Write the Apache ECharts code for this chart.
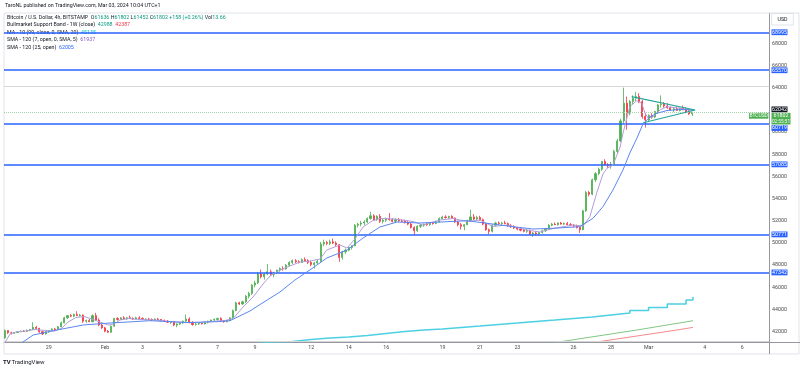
<!DOCTYPE html>
<html><head><meta charset="utf-8">
<script src="https://cdn.jsdelivr.net/npm/echarts@6/dist/echarts.min.js"></script>
<style>html,body{margin:0;padding:0;background:#fff}#c{width:800px;height:370px}</style>
</head><body><div id="c"></div>
<script>
// ---------- DATA ----------
// 4h candles, slot 0 = Feb 1 00:00, one slot = 4 hours
const candleStart = -32;
const ohlc = [ // [open, high, low, close]
[41450,42200,41350,42100],[42100,42150,41800,41900],[41900,42000,41750,41850],[41850,41950,41800,41920],
[41920,42050,41880,42000],[42000,42100,41950,42050],[42050,42150,41980,42020],[42020,42200,42000,42120],
[42120,42250,42050,42200],[42200,42850,42150,42400],[42400,42500,42250,42300],[42300,42350,41900,42000],
[42000,42100,41700,41800],[41800,42050,41750,42000],[42000,42150,41900,42100],[42100,42300,42050,42250],
[42250,42350,42100,42200],[42200,42500,42150,42450],[42450,42900,42400,42800],[42800,43350,42750,43250],
[43250,43500,43150,43450],[43450,43600,43300,43400],[43400,43650,43300,43550],[43550,43850,43400,43450],
[43450,43600,43350,43500],[43500,43550,42800,42950],[42950,43100,42800,43000],[43000,43150,42850,42900],
[42900,43550,42850,43450],[43450,43700,42950,43050],[43050,43200,42500,42600],[42600,42700,42250,42350],
[42350,42450,41950,42050],[42050,42150,41900,41950],[41950,42550,41900,42500],[42500,43250,42450,43200],
[43200,43300,43000,43100],[43100,43300,43050,43250],[43250,43400,43100,43150],[43150,43300,43050,43250],
[43250,43450,43150,43200],[43200,43300,43050,43150],[43150,43350,43100,43250],[43250,43400,43150,43200],
[43200,43300,43050,43100],[43100,43200,43000,43150],[43150,43250,43050,43100],[43100,43200,42950,43050],
[43050,43200,43000,43150],[43150,43250,43050,43100],[43100,43150,42950,43000],[43000,43100,42900,42950],
[42950,43050,42800,42850],[42850,42950,42700,42900],[42900,42950,42500,42600],[42600,42750,42400,42700],
[42700,42850,42600,42800],[42800,43000,42700,42950],[42950,43550,42900,43150],[43150,43300,42750,42850],
[42850,42950,42550,42650],[42650,42800,42550,42700],[42700,42800,42600,42750],[42750,42850,42650,42700],
[42700,42900,42650,42850],[42850,43000,42750,42950],[42950,43100,42850,43050],[43050,43200,42950,43100],
[43100,43250,43000,43200],[43200,43300,42900,42950],[42950,43050,42800,42900],[42900,43050,42850,43000],
[43000,43300,42950,43250],[43250,44000,43200,43900],[43900,44700,43850,44600],[44600,44700,44400,44500],
[44500,44800,44400,44700],[44700,45300,44600,45200],[45200,45600,45000,45450],[45450,46300,45300,46200],
[46200,46600,46000,46400],[46400,47400,46300,47200],[47200,47600,46800,46950],[46950,47300,46700,47200],
[47200,48100,47100,47400],[47400,47600,47000,47150],[47150,47400,46900,47350],[47350,47600,47200,47550],
[47550,47800,47400,47700],[47700,47900,47500,47650],[47650,48100,47600,48000],[48000,48350,47900,48250],
[48250,48500,48100,48400],[48400,48550,48200,48300],[48300,48450,48150,48250],[48250,48600,48200,48500],
[48500,48700,48350,48400],[48400,48550,48100,48250],[48250,48400,47900,48050],[48050,48300,47700,48200],
[48200,48500,48100,48350],[48350,50100,48300,49900],[49900,50300,49700,50050],[50050,50200,49800,49950],
[49950,50300,49800,50100],[50100,50400,49900,50000],[50000,50150,49700,49850],[49850,49900,48300,48700],
[48700,49300,48500,49200],[49200,49500,49000,49350],[49350,49700,49250,49600],[49600,49800,49400,49750],
[49750,51700,49700,51600],[51600,51800,51400,51700],[51700,52000,51500,51800],[51800,52050,51600,51900],
[51900,52300,51800,52200],[52200,52800,52100,52450],[52450,52600,52000,52100],[52100,52500,52000,52400],
[52400,52600,51800,51950],[51950,52200,51750,52050],[52050,52300,51900,52200],[52200,52700,52000,52100],
[52100,52250,51850,51950],[51950,52200,51800,52100],[52100,52250,51900,52000],[52000,52150,51850,51950],
[51950,52100,51750,51850],[51850,52000,51600,51700],[51700,51800,51300,51400],[51400,51500,50700,51100],
[51100,51600,51000,51500],[51500,51700,51350,51600],[51600,51750,51450,51700],[51700,51850,51550,51650],
[51650,51850,51550,51800],[51800,51900,51650,51750],[51750,52000,51700,51900],[51900,52300,51850,52200],
[52200,52450,52100,52350],[52350,52500,52200,52300],[52300,52450,52150,52400],[52400,52500,52200,52250],
[52250,52300,51800,51900],[51900,52000,51500,51650],[51650,51800,51200,51500],[51500,51700,51150,51650],
[51650,52100,51600,52000],[52000,53000,51950,52350],[52350,52600,52050,52150],[52150,52450,52050,52300],
[52300,52450,52000,52100],[52100,52200,51600,51700],[51700,51800,51100,51200],[51200,51300,50800,51050],
[51050,51700,50950,51600],[51600,51900,51500,51800],[51800,51950,51650,51750],[51750,51900,51600,51800],
[51800,52000,51700,51750],[51750,51850,51450,51550],[51550,51700,51350,51450],[51450,51600,51250,51350],
[51350,51450,51150,51250],[51250,51400,51050,51150],[51150,51300,50950,51050],[51050,51250,50900,51150],
[51150,51200,50700,50800],[50800,51000,50550,50900],[50900,51050,50650,50800],[50800,51000,50700,50950],
[50950,51200,50850,51100],[51100,51300,51000,51250],[51250,51700,51200,51600],[51600,51800,51500,51700],
[51700,51850,51600,51650],[51650,51850,51550,51800],[51800,51900,51650,51700],[51700,51850,51600,51750],
[51750,51900,51600,51650],[51650,51800,51500,51600],[51600,51700,51400,51550],[51550,51650,51300,51400],
[51400,51500,50900,51200],[51200,53000,51150,52900],[52900,54700,52800,54550],[54550,54700,54200,54400],
[54400,55800,54300,55700],[55700,56400,55500,56250],[56250,56800,56100,56650],[56650,57400,56500,57350],
[57350,57550,56950,57050],[57050,57200,56750,56950],[56950,57300,56700,57100],[57100,58400,57000,58250],
[58250,59400,58100,59200],[59200,61200,59100,61000],[61000,64000,60800,62600],[62600,63200,60200,61700],
[61700,62900,61500,62750],[62750,63300,62500,63050],[63050,63600,62800,63200],[63200,63500,62600,62750],
[62750,62900,61200,61400],[61400,61700,60400,61100],[61100,61600,60900,61500],[61500,61700,61200,61350],
[61350,61900,61250,61850],[61850,62500,61700,62450],[62450,63300,62200,62500],[62500,62700,62200,62350],
[62350,62600,62100,62200],[62200,62300,61900,62000],[62000,62200,61800,62100],[62100,62300,61900,61950],
[61950,62200,61850,62150],[62150,62400,61950,62050],[62050,62250,61700,61800],[61800,62000,61550,61636],
[61636,61802,61452,61802]
];
// SMA (7, open) – purple: [slot, price]
const smaFast = [[-32.3,40891],[-30.4,41793],[-28.5,41973],[-25.6,42063],[-22.4,42198],[-19.2,42108],[-16,42063],
[-13.8,42334],[-11.8,42874],[-9.3,43280],[-6.7,43370],[-4.2,43145],[-1.6,42874],[1,42604],[2.9,42694],[4.8,43055],
[7.4,43190],[11.2,43100],[16,43055],[20.8,42920],[25.6,42829],[30.4,42829],[33.6,42920],[38.4,43010],[41,43190],
[44.2,44227],[47.4,45128],[50.6,46300],[52.8,47021],[56,47562],[59.2,47923],[62.4,48283],[65.6,48374],[68.8,48554],
[71,49365],[75.2,49816],[77.5,49545],[80,50357],[82.6,51439],[85.5,51980],[88,52205],[92.8,52160],[98.6,51935],
[101.8,51619],[107.2,52070],[111.4,52205],[115.9,51935],[120,52070],[124.2,51484],[128.7,51619],[135.1,51168],
[139.2,50988],[143.4,51303],[149.8,51619],[153,51529],[155.2,52367],[157.5,54594],[159.4,56217],[160.7,56730],
[162.6,57028],[164.9,58651],[165.9,60004],[168,62284],[170.2,62825],[171.8,62590],[172.9,61689],[173.9,61238],
[175.5,61382],[177.7,61987],[179.8,62284],[184.1,62140],[188.2,61937]];
// SMA (25, open) – blue
const smaSlow = [[-27.2,40891],[-23,41703],[-15.4,42153],[-7,42604],[1.6,42784],[9,42902],[14.4,42992],[26.2,42829],
[35.9,42902],[40,42992],[46.4,43866],[51.9,44858],[56,45579],[60.8,46661],[65.6,47562],[71,48644],[77.5,49365],
[82.6,50447],[88,51439],[93.5,51890],[100.8,51799],[109.5,51917],[115.9,52007],[122.3,51772],[130.6,51466],
[137,51259],[143.4,51322],[152,51466],[156.2,52223],[159.4,53269],[162.6,54775],[165.8,56578],[168,58110],
[170.3,59462],[172.2,60724],[174.4,61355],[176.7,61689],[179.9,61941],[184.1,62031],[188.2,62005]];
// MA (99, close) daily – cyan step line
const maDaily = [[42,40900],[48,41070],[54,41120],[60,41300],[66,41430],[72,41520],[78,41660],[84,41840],[90,42020],
[96,42150],[102,42240],[108,42380],[114,42510],[120,42650],[126,42780],[132,42920],[138,43050],[144,43190],
[150,43330],[156,43510],[162,43690],[168,43910],[174,44180],[180,44500],[186,44860],[188.2,45135]];
// Bull market support band (1W)
const bandSma = [[144.6,41044],[170.2,42150],[188.2,42988]];
const bandEma = [[156.8,41044],[183,42150],[188.2,42387]];
// Triangle drawing
const triUpper = [[168.6,63185],[188.9,61986]];
const triLower = [[172.3,60840],[188.9,61986]];
// Horizontal levels
const levels = [68995, 65570, 60719, 57085, 50771, 47342];
const grayLevels = [64086, 41132];
const refPrice = 62042;
const lastPrice = 61802;
const countdown = '02:55:51';
// Axis ticks
const priceTicks = [42000,44000,46000,48000,50000,52000,54000,56000,58000,60000,62000,64000,66000,68000];
const tickSlots = [-18,0,12,24,36,48,66,78,90,108,120,132,150,162,174,192,204];
const tickLabels = ['29','Feb','3','5','7','9','12','14','16','19','21','23','26','28','Mar','4','6'];

// ---------- CHART ----------
const FONT = 'Roboto, "Liberation Sans", Arial, sans-serif';
const FS = 5.3;
const UP = '#4caf50', DOWN = '#f23645';
const chart = echarts.init(document.getElementById('c'), null, {renderer: 'canvas', width: 800, height: 370});
const candleData = ohlc.map((r, i) => [candleStart + i, r[0], r[3], r[2], r[1]]);

const lineS = (data, color, width, extra) => Object.assign({
  type: 'line', data, symbol: 'none', silent: true, z: 3,
  lineStyle: {color, width}, emphasis: {disabled: true}
}, extra || {});

const option = {
  animation: false,
  backgroundColor: '#ffffff',
  textStyle: {fontFamily: FONT},
  grid: {left: 4, right: 31, top: 13, bottom: 28},
  xAxis: {
    type: 'value', min: -32.33, max: 212.55,
    axisLine: {show: true, onZero: false, lineStyle: {color: '#9598a1', width: 1}},
    axisTick: {show: false}, splitLine: {show: false},
    axisLabel: {customValues: tickSlots, formatter: v => { const k = tickSlots.indexOf(v); return k >= 0 ? tickLabels[k] : ''; },
      fontSize: FS, color: '#4a4a4a', margin: 3, fontFamily: FONT}
  },
  yAxis: {
    type: 'value', position: 'right', min: 41072, max: 70731,
    axisLine: {show: true, onZero: false, lineStyle: {color: '#9598a1', width: 1}},
    axisTick: {show: false}, splitLine: {show: false},
    axisLabel: {customValues: priceTicks, formatter: v => String(v), fontSize: FS, color: '#4a4a4a', margin: 3, fontFamily: FONT}
  },
  series: [
    lineS(maDaily, '#4dd0e1', 1.6, {step: 'end', z: 2}),
    lineS(bandSma, '#81c784', 1, {z: 2}),
    lineS(bandEma, '#f28b8b', 1, {z: 2}),
    {
      type: 'candlestick', data: candleData, barWidth: 1.6, z: 4, silent: true,
      itemStyle: {color: UP, color0: DOWN, borderColor: UP, borderColor0: DOWN, borderWidth: 0.8},
      markLine: {
        silent: true, symbol: 'none', animation: false, label: {show: false},
        data: [
          ...levels.map(v => ({yAxis: v, lineStyle: {color: '#2962ff', width: 1.7, type: 'solid'}})),
          ...grayLevels.map(v => ({yAxis: v, lineStyle: {color: '#d6d6d6', width: 1, type: 'solid'}})),
          {yAxis: lastPrice, lineStyle: {color: '#a5d6a7', width: 1, type: 'dotted'}}
        ]
      }
    },
    lineS(smaFast, '#b39ddb', 1, {z: 5}),
    lineS(smaSlow, '#5b86f0', 1, {z: 5}),
    lineS(triUpper, '#26a69a', 1.2, {z: 6}),
    lineS(triLower, '#26a69a', 1.2, {z: 6})
  ]
};
chart.setOption(option);

// ---------- overlay texts / axis boxes ----------
const yPix = v => chart.convertToPixel({yAxisIndex: 0}, v);
const g = [];
const txt = (x, y, text, fill, extra) => g.push(Object.assign({type: 'text', x, y, z: 50, silent: true,
  style: Object.assign({text, fill, font: `${FS}px ${FONT}`, textVerticalAlign: 'middle'}, (extra && extra.style) || {})}, extra && extra.el));

// frame
g.push({type: 'rect', z: 1, silent: true, shape: {x: 4, y: 13, width: 795, height: 341}, style: {fill: 'none', stroke: '#e0e3eb', lineWidth: 1}});
g.push({type: 'line', z: 1, silent: true, shape: {x1: 769.5, y1: 342, x2: 769.5, y2: 354}, style: {stroke: '#9598a1', lineWidth: 1}});
g.push({type: 'line', z: 1, silent: true, shape: {x1: 769.5, y1: 342.5, x2: 800, y2: 342.5}, style: {stroke: '#9598a1', lineWidth: 1}});

// header
txt(5, 6, 'TaroNL published on TradingView.com, Mar 03, 2024 10:04 UTC+1', '#131722');
// legend
const rt = (fill) => ({fill, fontSize: FS, fontFamily: FONT});
const rich = {t: rt('#131722'), g: rt('#089981'), r: rt('#f23645'), c: rt('#00bcd4'), p: rt('#7e57c2'), b: rt('#2962ff')};
const legend = [
  '{t|Bitcoin / U.S. Dollar, 4h, BITSTAMP}  {t|O}{g|61636} {t|H}{g|61802} {t|L}{g|61452} {t|C}{g|61802} {g|+158 (+0.26%)} {t|Vol}{g|13.66}',
  '{t|Bullmarket Support Band - 1W (close)}  {g|42988}  {r|42387}',
  '{t|MA - 10 (99, close, 0, SMA, 20)}  {c|45135}',
  '{t|SMA - 120 (7, open, 0, SMA, 5)}  {p|61937}',
  '{t|SMA - 120 (25, open)}  {b|62005}'
];
legend.forEach((s, i) => g.push({type: 'text', x: 7, y: 17.7 + i * 7.4, z: 1, silent: true,
  style: {text: s, rich, font: `${FS}px ${FONT}`, textVerticalAlign: 'middle'}}));

// price-axis boxes with collision push-down
const LH = 5.8;
const boxes = levels.map(v => ({v, lines: [String(v)], bg: '#2962ff', w: 16}));
boxes.push({v: refPrice, lines: [String(refPrice)], bg: '#131722', w: 16});
boxes.push({v: lastPrice, lines: [String(lastPrice), countdown], bg: UP, w: 19, sym: 'BTCUSD'});
boxes.forEach(b => { b.y = yPix(b.v); b.top = b.y - LH / 2; b.h = LH * b.lines.length; });
boxes.sort((a, b) => a.y - b.y);
for (let i = 1; i < boxes.length; i++) {
  const prevBottom = boxes[i - 1].top + boxes[i - 1].h + 0.6;
  if (boxes[i].top < prevBottom) boxes[i].top = prevBottom;
}
boxes.forEach(b => {
  g.push({type: 'rect', z: 60, silent: true, shape: {x: 771.5, y: b.top, width: b.w, height: b.h}, style: {fill: b.bg}});
  b.lines.forEach((l, k) => txt(771.5 + b.w / 2, b.top + LH * (k + 0.5), l, '#ffffff', {style: {textAlign: 'center', font: `${k ? FS - 0.6 : FS}px ${FONT}`}, el: {z: 61}}));
  if (b.sym) {
    g.push({type: 'rect', z: 60, silent: true, shape: {x: 749, y: b.top, width: 19.3, height: LH}, style: {fill: b.bg}});
    txt(758.6, b.top + LH / 2, b.sym, '#ffffff', {style: {textAlign: 'center', font: `${FS - 0.4}px ${FONT}`}, el: {z: 61}});
  }
});
// USD box
g.push({type: 'rect', z: 60, silent: true, shape: {x: 771.7, y: 13.5, width: 21.6, height: 11.5}, style: {fill: '#ffffff', stroke: '#e0e3eb', lineWidth: 1}});
txt(782.5, 19.3, 'USD', '#131722', {style: {textAlign: 'center'}, el: {z: 61}});
// TradingView logo
txt(3, 362.7, 'TV', '#131722', {style: {font: `bold 6px ${FONT}`}});
txt(11.5, 362.7, 'TradingView', '#131722', {style: {font: `6px ${FONT}`}});

chart.setOption({graphic: {elements: g}});
</script></body></html>
